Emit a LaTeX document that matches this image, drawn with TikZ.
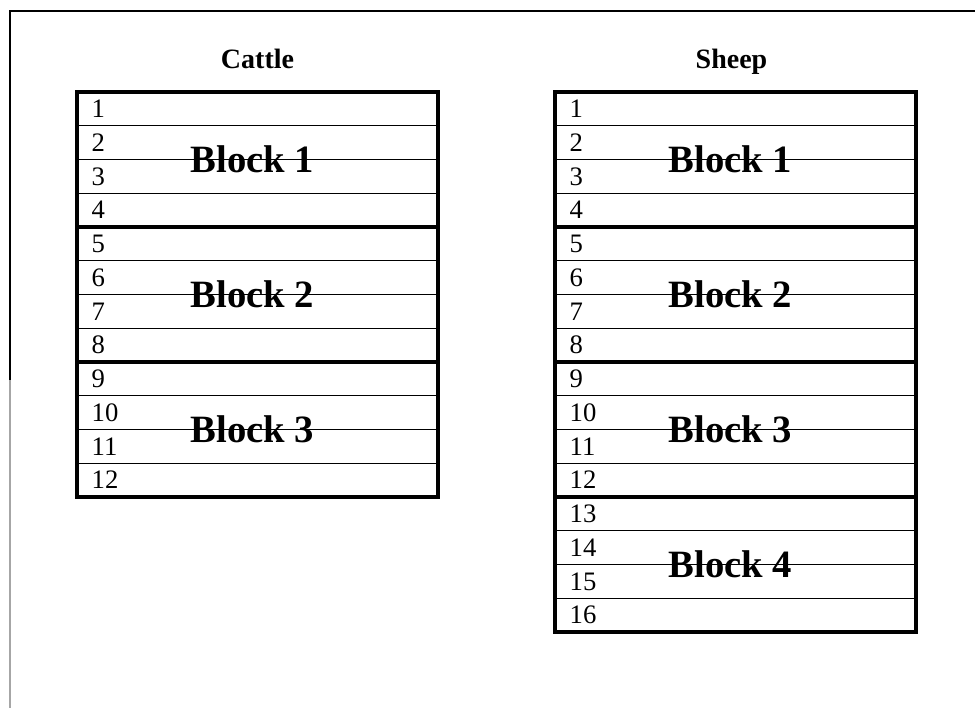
\documentclass[tikz,border=0pt]{standalone}
\usepackage{fontspec}
\setmainfont{Liberation Serif}
\usetikzlibrary{positioning,calc}

\begin{document}
\begin{tikzpicture}[
    x=0.75pt, y=-0.75pt,
    row/.style={rectangle, draw, line width=0.9pt, minimum width=270.75pt, minimum height=25.3pt, text width=248.75pt, inner xsep=11pt, inner ysep=0pt, outer sep=0pt, align=left, anchor=north west, font=\fontsize{20}{21}\selectfont},
    blockbox/.style={draw, line width=3.2pt},
    blocklabel/.style={font=\fontsize{29}{30}\selectfont\bfseries, inner sep=0pt},
    herdtitle/.style={font=\fontsize{21}{22}\selectfont\bfseries, anchor=base, inner sep=0pt}
]
\useasboundingbox (0,0) rectangle (975,708);

% Page frame
\draw[line width=1.1pt] (975,11) -- (10,11) -- (10,380);
\draw[line width=1.1pt, black!35] (10,380) -- (10,708);

% Cattle: twelve rows
\foreach \i in {1,...,12}
    \node[row] (c\i) at (77, {92+(\i-1)*33.75}) {\i};

% Sheep: sixteen rows
\foreach \i in {1,...,16}
    \node[row] (s\i) at (555, {92+(\i-1)*33.75}) {\i};

% Titles
\node[herdtitle] (cattle) at ($(c1.north)+(0,-24)$) {Cattle};
\node[herdtitle] (sheep) at ($(s1.north)+(-4,-24)$) {Sheep};

% Blocks of four rows
\foreach \b [evaluate=\b as \first using int(4*\b-3), evaluate=\b as \mid using int(4*\b-2), evaluate=\b as \last using int(4*\b)] in {1,2,3} {
    \draw[blockbox] (c\first.north west) rectangle (c\last.south east);
    \node[blocklabel] (cb\b) at ($(c\mid.south)+(-5,0)$) {Block \b};
}
\foreach \b [evaluate=\b as \first using int(4*\b-3), evaluate=\b as \mid using int(4*\b-2), evaluate=\b as \last using int(4*\b)] in {1,2,3,4} {
    \draw[blockbox] (s\first.north west) rectangle (s\last.south east);
    \node[blocklabel] (sb\b) at ($(s\mid.south)+(-5,0)$) {Block \b};
}

\end{tikzpicture}
\end{document}
